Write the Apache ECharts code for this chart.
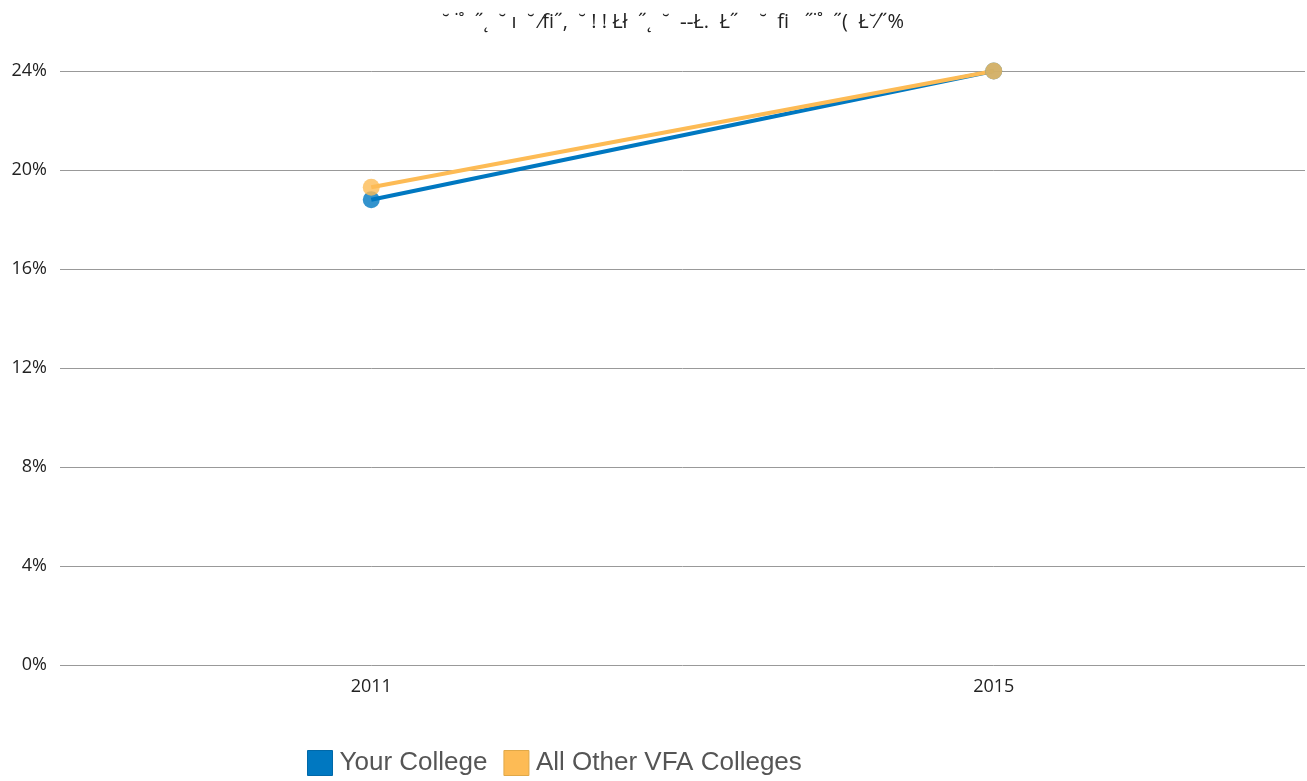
<!DOCTYPE html>
<html><head><meta charset="utf-8">
<script src="https://cdn.jsdelivr.net/npm/echarts@6/dist/echarts.min.js"></script>
<style>html,body{margin:0;padding:0;background:#fff}#c{width:1307px;height:781px}</style>
</head><body><div id="c"></div>
<script>
const titleText = "˘ ˙˚  ˝˛  ˘ ı  ˘ ⁄fi˝,  ˘ ! ! Łł  ˝˛  ˘  ‐‐Ł.  Ł˝    ˘  fi   ˝˙˚  ˝(  Ł˘⁄˝%";
const categories = ["2011", "2015"];
const yourCollege = [18.8, 24.0];
const allOther = [19.3, 24.0];
const seriesNames = ["Your College", "All Other VFA Colleges"];
const colors = ["#0078c1", "#fdbb55"];

const chart = echarts.init(document.getElementById('c'));
chart.setOption({
  animation: false,
  title: {text: titleText, left: 668, textAlign: 'center', top: 7,
    textStyle: {fontFamily: 'Open Sans', fontSize: 20, fontWeight: 'normal', color: '#222'}},
  grid: {left: 60, right: 2, top: 71, bottom: 116},
  legend: {left: 302, top: 745, itemWidth: 25, itemHeight: 25, itemGap: 16, icon: 'rect',
    textStyle: {fontFamily: 'Liberation Sans', fontSize: 26, color: '#555', padding: [0,0,0,2]},
    data: seriesNames.map((n,i)=>({name:n, itemStyle:{color:colors[i], opacity:1, borderColor: i? '#e0a848':'#0068a8', borderWidth:1}}))},
  xAxis: {type: 'category', data: categories,
    axisLine: {show: false}, axisTick: {show: false},
    axisLabel: {fontFamily: 'Open Sans', fontSize: 18, color: '#222', margin: 13}},
  yAxis: {type: 'value', min: 0, max: 24, interval: 4,
    axisLabel: {formatter: '{value}%', fontFamily: 'Open Sans', fontSize: 18, color: '#222', margin: 13},
    splitLine: {lineStyle: {color: '#999', width: 1}}},
  series: [
    {name: seriesNames[0], type: 'line', data: yourCollege, color: colors[0],
     symbol: 'circle', symbolSize: 17, lineStyle: {width: 4},
     itemStyle: {opacity: 0.8}},
    {name: seriesNames[1], type: 'line', data: allOther, color: colors[1],
     symbol: 'circle', symbolSize: 17, lineStyle: {width: 4},
     itemStyle: {opacity: 0.8}}
  ]
});
</script></body></html>
